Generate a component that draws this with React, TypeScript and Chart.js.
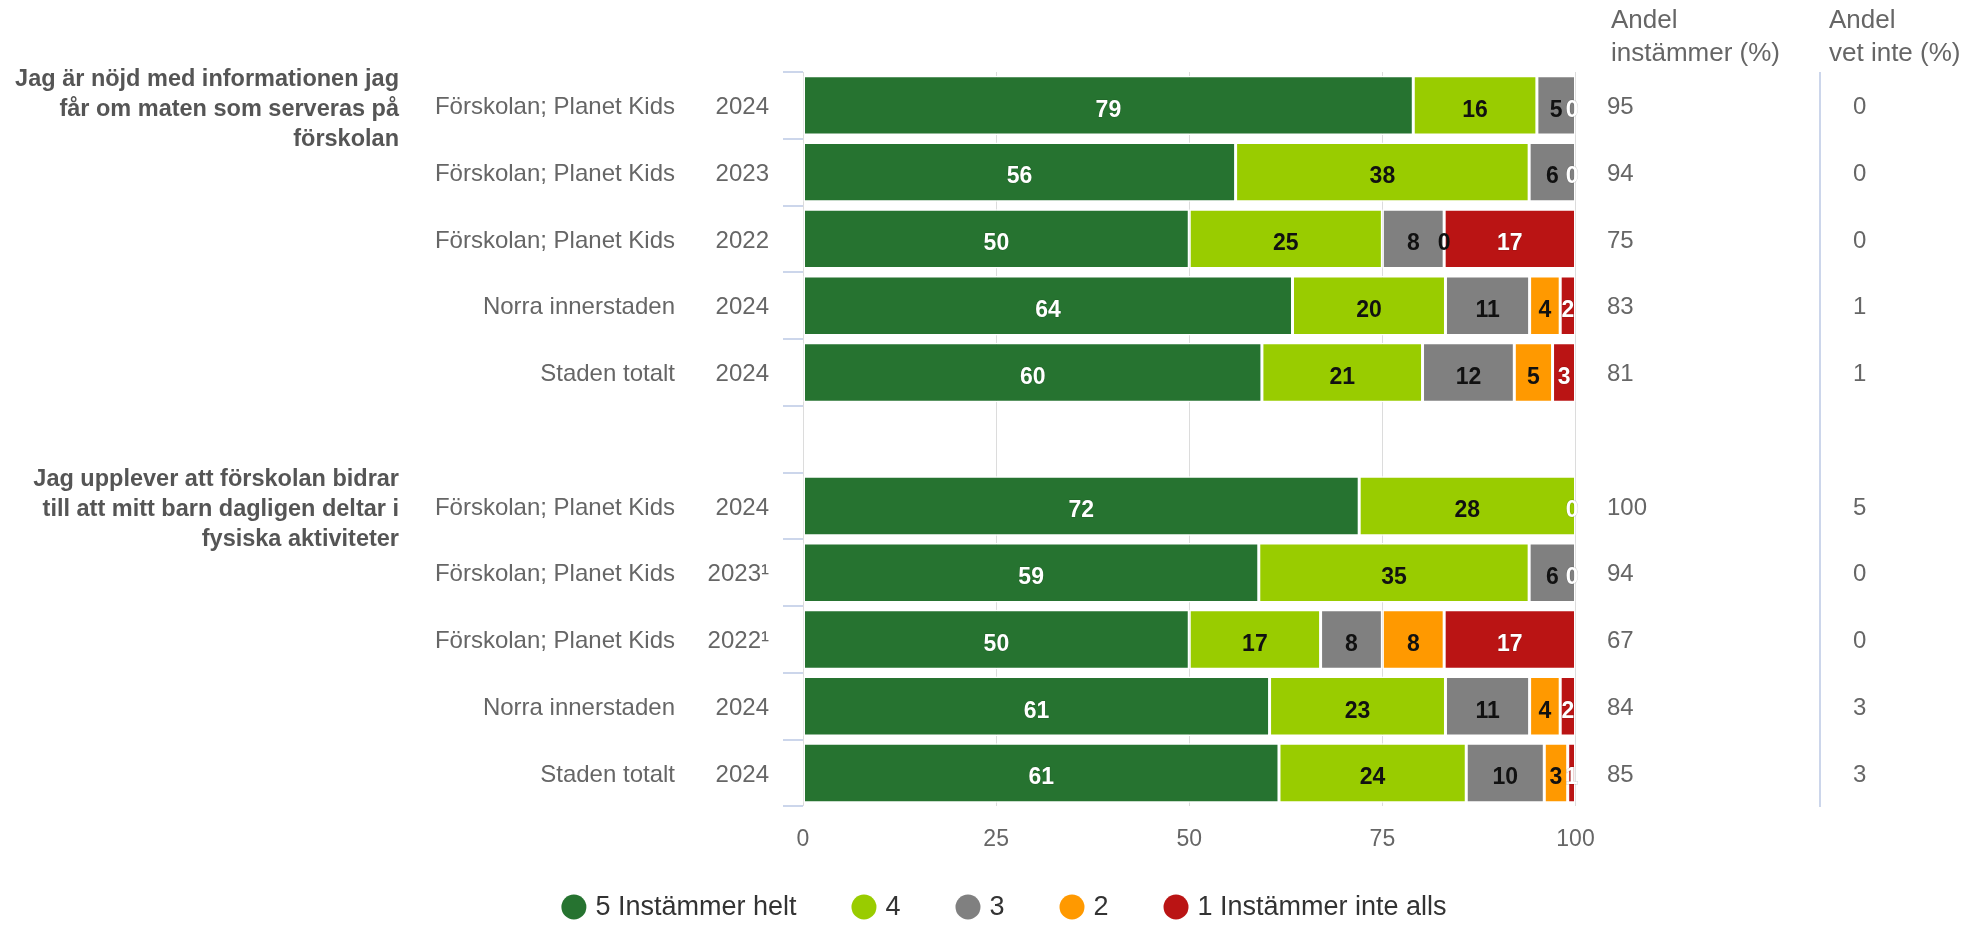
import React, { useEffect, useRef } from "react";
import { Chart, registerables } from "chart.js";

Chart.register(...registerables);

const categories = [
  "Förskolan; Planet Kids",
  "Förskolan; Planet Kids",
  "Förskolan; Planet Kids",
  "Norra innerstaden",
  "Staden totalt",
  "",
  "Förskolan; Planet Kids",
  "Förskolan; Planet Kids",
  "Förskolan; Planet Kids",
  "Norra innerstaden",
  "Staden totalt",
];
const years = ["2024", "2023", "2022", "2024", "2024", "", "2024", "2023¹", "2022¹", "2024", "2024"];

const seriesNames = ["5 Instämmer helt", "4", "3", "2", "1 Instämmer inte alls"];
const seriesColors = ["#267330", "#99cc00", "#808080", "#ff9900", "#ba1414"];
const labelColors = ["#ffffff", "#111111", "#111111", "#111111", "#ffffff"];

const s5 = [79, 56, 50, 64, 60, null, 72, 59, 50, 61, 61];
const s4 = [16, 38, 25, 20, 21, null, 28, 35, 17, 23, 24];
const s3 = [5, 6, 8, 11, 12, null, 0, 6, 8, 11, 10];
const s2 = [0, 0, 0, 4, 5, null, 0, 0, 8, 4, 3];
const s1 = [0, 0, 17, 2, 3, null, 0, 0, 17, 2, 1];

const agreeShare = [95, 94, 75, 83, 81, null, 100, 94, 67, 84, 85];
const dontKnowShare = [0, 0, 0, 1, 1, null, 5, 0, 0, 3, 3];

const question1 = ["Jag är nöjd med informationen jag", "får om maten som serveras på", "förskolan"];
const question2 = ["Jag upplever att förskolan bidrar", "till att mitt barn dagligen deltar i", "fysiska aktiviteter"];
const questionRows = [0, 6];

const headerAgree = ["Andel", "instämmer (%)"];
const headerDontKnow = ["Andel", "vet inte (%)"];

const xTicks = [0, 25, 50, 75, 100];

const FONT = "'Liberation Sans', Arial, Helvetica, sans-serif";

export default function App() {
  const canvasRef = useRef<HTMLCanvasElement | null>(null);

  useEffect(() => {
    document.body.style.margin = "0";
    const canvas = canvasRef.current;
    if (!canvas) return;

    const raw = [s5, s4, s3, s2, s1];
    const rowSums = categories.map((_, i) => {
      let s = 0;
      let any = false;
      raw.forEach((arr) => {
        const v = arr[i];
        if (v !== null && v !== undefined) {
          s += v;
          any = true;
        }
      });
      return any ? s : null;
    });
    const datasets = raw.map((arr, d) => ({
      label: seriesNames[d],
      data: arr.map((v, i) => (v === null || rowSums[i] === null ? null : (v / (rowSums[i] as number)) * 100)),
      backgroundColor: seriesColors[d],
      borderColor: "#ffffff",
      borderWidth: 1.5,
      borderSkipped: false as const,
      barPercentage: 0.89,
      categoryPercentage: 1,
    }));

    const textPlugin = {
      id: "textPlugin",
      afterDatasetsDraw(chart: any) {
        const ctx = chart.ctx as CanvasRenderingContext2D;
        const area = chart.chartArea;
        ctx.save();
        ctx.font = `bold 23px ${FONT}`;
        ctx.textBaseline = "middle";
        ctx.textAlign = "center";
        for (let d = 0; d < raw.length; d++) {
          const meta = chart.getDatasetMeta(d);
          meta.data.forEach((el: any, j: number) => {
            const v = raw[d][j];
            if (v === null || v === undefined) return;
            if (v === 0 && d < raw.length - 1 && raw[d + 1][j] === 0) return;
            const txt = String(v);
            const w = ctx.measureText(txt).width;
            let cx = (el.x + el.base) / 2;
            cx = Math.min(cx, area.right + 3 - w / 2);
            const cy = el.y + 5;
            if (labelColors[d] === "#ffffff") {
              ctx.lineWidth = 1;
              ctx.strokeStyle = "rgba(0,0,0,0.18)";
              ctx.strokeText(txt, cx, cy);
            }
            ctx.fillStyle = labelColors[d];
            ctx.fillText(txt, cx, cy);
          });
        }
        ctx.restore();
      },
      afterDraw(chart: any) {
        const ctx = chart.ctx as CanvasRenderingContext2D;
        const yScale = chart.scales.y;
        ctx.save();

        // category and year labels, right-hand columns
        ctx.textBaseline = "middle";
        ctx.font = `24px ${FONT}`;
        ctx.fillStyle = "#666666";
        categories.forEach((c, i) => {
          const y = yScale.getPixelForValue(i) + 2;
          ctx.textAlign = "right";
          if (c) ctx.fillText(c, 675, y);
          if (years[i]) ctx.fillText(years[i], 769, y);
          ctx.textAlign = "left";
          const a = agreeShare[i];
          if (a !== null) ctx.fillText(String(a), 1607, y);
          const dk = dontKnowShare[i];
          if (dk !== null) ctx.fillText(String(dk), 1853, y);
        });

        // question labels
        ctx.font = `bold 23.5px ${FONT}`;
        ctx.fillStyle = "#555555";
        ctx.textAlign = "right";
        [question1, question2].forEach((lines, q) => {
          const yc = yScale.getPixelForValue(questionRows[q]) + 4;
          lines.forEach((line, k) => {
            ctx.fillText(line, 399, yc + (k - (lines.length - 1) / 2) * 30);
          });
        });

        // headers
        ctx.font = `26px ${FONT}`;
        ctx.fillStyle = "#666666";
        ctx.textAlign = "left";
        ctx.textBaseline = "alphabetic";
        headerAgree.forEach((t, k) => ctx.fillText(t, 1611, 28 + k * 33));
        headerDontKnow.forEach((t, k) => ctx.fillText(t, 1829, 28 + k * 33));

        // divider
        ctx.strokeStyle = "#ccd6eb";
        ctx.lineWidth = 2;
        ctx.beginPath();
        ctx.moveTo(1820, 72);
        ctx.lineTo(1820, 807);
        ctx.stroke();

        // legend
        ctx.font = `27px ${FONT}`;
        ctx.textBaseline = "middle";
        const r = 12.5;
        const gapIn = 9;
        const gapOut = 55;
        const widths = chart.data.datasets.map((ds: any) => ctx.measureText(ds.label).width);
        let total = 0;
        widths.forEach((w: number, i: number) => {
          total += 2 * r + gapIn + w + (i < widths.length - 1 ? gapOut : 0);
        });
        let x = 1004 - total / 2;
        const ly = 907;
        chart.data.datasets.forEach((ds: any, i: number) => {
          ctx.fillStyle = ds.backgroundColor;
          ctx.beginPath();
          ctx.arc(x + r, ly, r, 0, Math.PI * 2);
          ctx.fill();
          ctx.fillStyle = "#333333";
          ctx.fillText(ds.label, x + 2 * r + gapIn, ly + 1);
          x += 2 * r + gapIn + widths[i] + gapOut;
        });

        ctx.restore();
      },
    };

    const chart = new Chart(canvas, {
      type: "bar",
      data: {
        labels: categories.map((c, i) => `${c} ${years[i]}`),
        datasets,
      },
      options: {
        indexAxis: "y",
        responsive: false,
        animation: false,
        devicePixelRatio: 1,
        layout: {
          padding: { left: 783, right: 396.5, top: 72, bottom: 53 },
        },
        plugins: {
          legend: { display: false },
          tooltip: { enabled: false },
        },
        scales: {
          x: {
            stacked: true,
            min: 0,
            max: 100,
            afterBuildTicks: (scale: any) => {
              scale.ticks = xTicks.map((v) => ({ value: v }));
            },
            ticks: {
              font: { family: FONT, size: 23 },
              color: "#666666",
              padding: 19,
            },
            grid: {
              color: "#dcdcdc",
              lineWidth: 1,
              drawTicks: false,
            },
            border: { display: false },
          },
          y: {
            stacked: true,
            ticks: { display: false },
            grid: {
              drawOnChartArea: false,
              color: "#ccd6eb",
              lineWidth: 2,
              tickLength: 20,
              offset: true,
            },
            border: { display: false },
          },
        },
      },
      plugins: [textPlugin],
    });

    return () => chart.destroy();
  }, []);

  return (
    <div style={{ position: "absolute", left: 0, top: 0, width: 1972, height: 925, background: "#ffffff" }}>
      <canvas ref={canvasRef} width={1972} height={925} style={{ display: "block" }} />
    </div>
  );
}
